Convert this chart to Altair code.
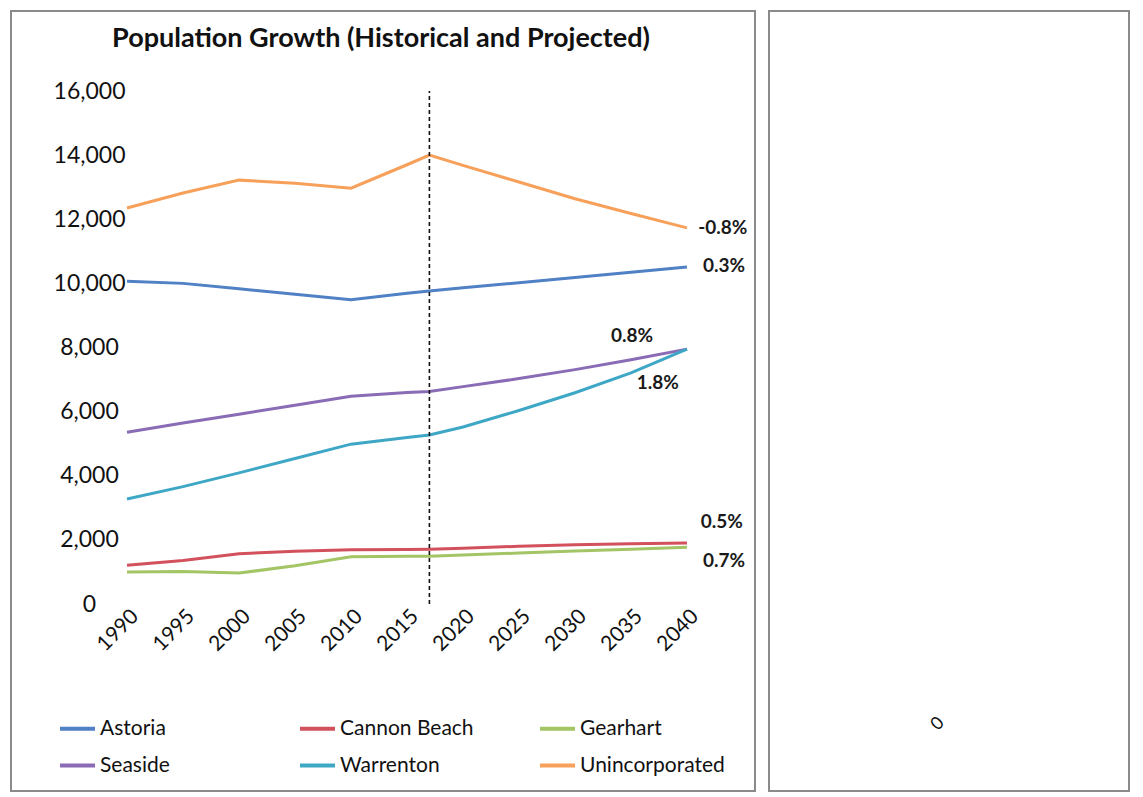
import altair as alt
import pandas as pd

# ---------------- data ----------------
years = [1990, 1995, 2000, 2005, 2010, 2015, 2017, 2020, 2025, 2030, 2035, 2040]
series_names = ["Astoria", "Cannon Beach", "Gearhart", "Seaside", "Warrenton", "Unincorporated"]
astoria = [10070, 10000, 9830, 9660, 9490, 9690, 9760, 9860, 10020, 10180, 10350, 10510]
cannon_beach = [1210, 1360, 1570, 1645, 1690, 1700, 1710, 1740, 1800, 1850, 1880, 1900]
gearhart = [1000, 1010, 965, 1190, 1470, 1490, 1490, 1530, 1590, 1650, 1710, 1770]
seaside = [5355, 5645, 5920, 6200, 6480, 6595, 6630, 6780, 7030, 7310, 7620, 7950]
warrenton = [3275, 3660, 4090, 4540, 4985, 5195, 5270, 5520, 6035, 6590, 7210, 7950]
unincorporated = [12350, 12820, 13220, 13120, 12970, 13700, 14000, 13680, 13160, 12640, 12180, 11730]
series_values = [astoria, cannon_beach, gearhart, seaside, warrenton, unincorporated]
series_colors = ["#4f81c4", "#d2515c", "#a3c565", "#8a6bb5", "#3fa7c6", "#f7a05a"]

label_texts = ["-0.8%", "0.3%", "0.8%", "1.8%", "0.5%", "0.7%"]
label_years = [2043.2, 2043.3, 2035.1, 2037.4, 2043.1, 2043.3]
label_values = [11720, 10550, 8350, 6890, 2570, 1340]

divider_year = 2017
x_ticks = list(range(1990, 2041, 5))
y_ticks = list(range(0, 16001, 2000))

title_text = "Population Growth (Historical and Projected)"

rows = []
for name, vals in zip(series_names, series_values):
    for yr, v in zip(years, vals):
        rows.append({"Year": yr, "Population": v, "Area": name})
df = pd.DataFrame(rows)
lab_df = pd.DataFrame({"Year": label_years, "Population": label_values, "Label": label_texts})
rule_df = pd.DataFrame({"Year": [divider_year], "lo": [y_ticks[0]], "hi": [y_ticks[-1]]})

FONT = "Lato"
x_scale = alt.Scale(domain=[1990, 2040], nice=False, zero=False)
y_scale = alt.Scale(domain=[0, 16000], nice=False)

frame = alt.Chart(pd.DataFrame({"k": [0]})).mark_rect(
    fillOpacity=0, stroke="#8a8a8a", strokeWidth=2
).encode(x=alt.value(-116), x2=alt.value(628), y=alt.value(-80), y2=alt.value(700))

title = alt.Chart(pd.DataFrame({"t": [title_text]})).mark_text(
    font=FONT, fontSize=27, fontWeight="bold", color="#111", align="center", baseline="middle"
).encode(x=alt.value(254), y=alt.value(-52), text="t:N")

lines = alt.Chart(df).mark_line(strokeWidth=3).encode(
    x=alt.X("Year:Q", scale=x_scale,
            axis=alt.Axis(values=x_ticks, format="d", title=None, labelAngle=315,
                          labelAlign="right", labelBaseline="middle", labelOffset=8,
                          labelPadding=9, labelFontSize=21, domain=False, ticks=False,
                          grid=False, labelFont=FONT, labelColor="#111")),
    y=alt.Y("Population:Q", scale=y_scale,
            axis=alt.Axis(values=y_ticks, format=",d", title=None, labelFontSize=23,
                          labelAlign="center", labelPadding=38, domain=False, ticks=False,
                          grid=False, labelFont=FONT, labelColor="#111")),
    color=alt.Color("Area:N", sort=series_names,
                    scale=alt.Scale(domain=series_names, range=series_colors),
                    legend=alt.Legend(orient="none", legendX=-69, legendY=618,
                                      direction="horizontal", columns=3, gridAlign="all",
                                      columnPadding=47, rowPadding=7, padding=0,
                                      symbolType="stroke", symbolSize=1225,
                                      symbolStrokeWidth=4, labelFontSize=21,
                                      labelFont=FONT, labelColor="#111", labelOffset=3,
                                      title=None, labelLimit=300)),
)

rule = alt.Chart(rule_df).mark_rule(strokeDash=[4, 3], strokeWidth=1.6, color="#111").encode(
    x=alt.X("Year:Q", scale=x_scale), y=alt.Y("lo:Q", scale=y_scale), y2="hi:Q"
)

labels = alt.Chart(lab_df).mark_text(font=FONT, fontSize=19, fontWeight="bold", color="#1a1a1a").encode(
    x=alt.X("Year:Q", scale=x_scale), y=alt.Y("Population:Q", scale=y_scale), text="Label:N"
)

left = alt.layer(frame, title, lines, rule, labels).properties(
    width=560, height=513,
    view=alt.ViewBackground(stroke="transparent"),
)

right_frame = alt.Chart(pd.DataFrame({"k": [0]})).mark_rect(
    fillOpacity=0, stroke="#8a8a8a", strokeWidth=2
).encode(x=alt.value(0), x2=alt.value(360), y=alt.value(-80), y2=alt.value(700))

right_text = alt.Chart(pd.DataFrame({"t": ["0"]})).mark_text(
    font=FONT, fontSize=18, angle=315, color="#111"
).encode(x=alt.value(169), y=alt.value(633), text="t:N")

right = alt.layer(right_frame, right_text).properties(
    width=360, height=513, view=alt.ViewBackground(stroke="transparent")
)

chart = alt.hconcat(left, right, spacing=10).resolve_scale(color="independent").resolve_legend(
    color="independent"
).properties(padding={"left": 1, "top": 1, "right": 1, "bottom": 1}, background="white")

chart.save("out.html", embed_options={"renderer": "svg", "actions": False})
